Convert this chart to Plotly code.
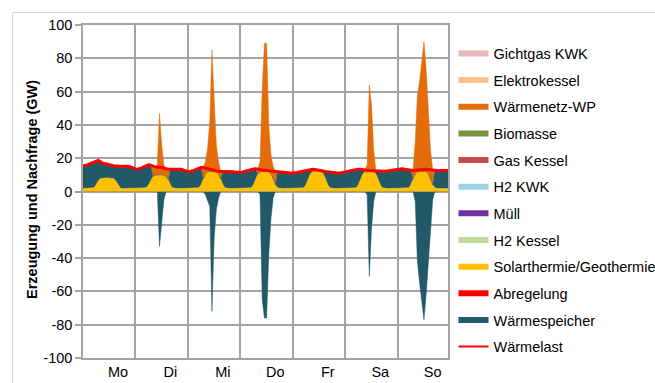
import plotly.graph_objects as go

# ---------------- data (GW, hourly, Mo 0h ... So 23h) ----------------
DAYS = ["Mo", "Di", "Mi", "Do", "Fr", "Sa", "So"]
HOURS = list(range(168))
Y_TICKS = [-100, -80, -60, -40, -20, 0, 20, 40, 60, 80, 100]
Y_TICK_TEXT = ["-100", "-80", "-60", "-40", "-20", "0", "20", "40", "60", "80", "100"]

SOLAR = [
    1.8, 1.8, 1.8, 1.8, 1.8, 2.2, 4.0, 6.5, 7.8, 8.0, 8.0, 8.2, 8.0, 8.0, 7.8, 6.5, 4.0, 2.2, 1.8, 1.8, 1.8, 1.8, 1.8, 1.8,
    1.8, 1.8, 1.8, 1.8, 1.8, 2.2, 4.0, 7.0, 9.0, 9.8, 10.0, 10.2, 10.0, 9.8, 9.0, 7.0, 4.0, 2.2, 1.8, 1.8, 1.8, 1.8, 1.8, 1.8,
    1.8, 1.8, 1.8, 1.8, 1.8, 2.2, 4.0, 7.5, 10.5, 11.8, 12.0, 12.2, 12.0, 11.8, 10.5, 7.5, 4.0, 2.2, 1.8, 1.8, 1.8, 1.8, 1.8, 1.8,
    1.8, 1.8, 1.8, 1.8, 1.8, 2.2, 4.0, 7.5, 10.5, 11.8, 12.0, 12.2, 12.0, 11.8, 10.5, 7.5, 4.0, 2.2, 1.8, 1.8, 1.8, 1.8, 1.8, 1.8,
    1.8, 1.8, 1.8, 1.8, 1.8, 2.2, 4.0, 7.5, 10.5, 11.8, 12.0, 12.2, 12.0, 11.8, 10.5, 7.5, 4.0, 2.2, 1.8, 1.8, 1.8, 1.8, 1.8, 1.8,
    1.8, 1.8, 1.8, 1.8, 1.8, 2.2, 4.0, 7.5, 10.5, 11.8, 12.0, 12.2, 12.0, 11.8, 10.5, 7.5, 4.0, 2.2, 1.8, 1.8, 1.8, 1.8, 1.8, 1.8,
    1.8, 1.8, 1.8, 1.8, 1.8, 2.2, 4.0, 7.5, 10.5, 11.8, 12.0, 12.2, 12.0, 11.8, 10.5, 7.5, 4.0, 2.2, 1.8, 1.8, 1.8, 1.8, 1.8, 1.8,
]

STORAGE_POS = [
    13.6, 13.8, 14.2, 14.8, 15.4, 15.6, 14.3, 12.1, 10.0, 9.0, 8.8, 8.4, 8.2, 7.8, 7.7, 8.8, 11.0, 12.8, 13.2, 13.4, 13.6, 13.4, 12.8, 12.2,
    11.8, 11.6, 11.8, 12.4, 13.2, 13.4, 12.0, 8.8, 0, 0, 0, 0, 0, 0, 0, 0, 9.4, 11.2, 11.8, 12.0, 12.0, 11.6, 11.0, 10.5,
    10.2, 10.2, 10.5, 11.0, 11.6, 11.8, 10.4, 0, 0, 0, 0, 0, 0, 0, 0, 0, 8.0, 9.8, 10.4, 10.4, 10.2, 10.0, 9.7, 9.6,
    9.7, 10.0, 10.4, 10.8, 11.2, 11.1, 9.5, 6.1, 0, 0, 0, 0, 0, 0, 0, 0, 0, 9.8, 10.2, 10.0, 9.8, 9.6, 9.4, 9.2,
    9.2, 9.4, 9.6, 9.9, 10.2, 10.0, 8.5, 5.4, 2.7, 1.6, 1.2, 0.7, 0.6, 0.5, 1.6, 4.5, 7.9, 9.5, 9.7, 9.5, 9.3, 9.2, 9.4, 9.8,
    10.1, 10.3, 10.6, 10.9, 11.2, 11.0, 9.4, 5.8, 2.5, 0, 0, 0, 0, 0, 1.7, 4.6, 8.0, 9.8, 10.3, 10.5, 10.7, 10.8, 11.1, 11.4,
    11.6, 11.7, 11.8, 11.6, 11.3, 10.6, 8.7, 0, 0, 0, 0, 0, 0, 0, 0, 0, 0, 10.4, 10.8, 10.7, 10.8, 10.9, 10.8, 10.8,
]

WAERMENETZ_WP = [
    0, 0, 0, 0, 0, 0, 0, 0, 0, 0, 0, 0, 0, 0, 0, 0, 0, 0, 0, 0, 0, 0, 0, 0,
    0, 0, 0, 0, 0, 0, 0, 0, 6.2, 5.0, 6.0, 36.8, 18.0, 6.2, 4.6, 6.4, 0, 0, 0, 0, 0, 0, 0, 0,
    0, 0, 0, 0, 0, 0, 0, 6.9, 7.5, 14.2, 30.0, 72.8, 43.0, 16.2, 7.5, 4.5, 0, 0, 0, 0, 0, 0, 0, 0,
    0, 0, 0, 0, 0, 0, 0, 0, 3.0, 6.2, 50.0, 76.8, 77.0, 28.2, 11.5, 7.5, 8.0, 0, 0, 0, 0, 0, 0, 0,
    0, 0, 0, 0, 0, 0, 0, 0, 0, 0, 0, 0, 0, 0, 0, 0, 0, 0, 0, 0, 0, 0, 0, 0,
    0, 0, 0, 0, 0, 0, 0, 0, 0, 1.0, 4.0, 51.8, 40.0, 13.2, 0, 0, 0, 0, 0, 0, 0, 0, 0, 0,
    0, 0, 0, 0, 0, 0, 0, 5.1, 19.5, 46.2, 54.0, 65.8, 78.0, 62.2, 39.5, 17.5, 8.8, 0, 0, 0, 0, 0, 0, 0,
]

STORAGE_NEG = [
    0, 0, 0, 0, 0, 0, 0, 0, 0, 0, 0, 0, 0, 0, 0, 0, 0, 0, 0, 0, 0, 0, 0, 0,
    0, 0, 0, 0, 0, 0, 0, 0, 0, 0, 0, -33, -20, -5, 0, 0, 0, 0, 0, 0, 0, 0, 0, 0,
    0, 0, 0, 0, 0, 0, 0, 0, -2, -5, -9, -72, -28, -11, -4, 0, 0, 0, 0, 0, 0, 0, 0, 0,
    0, 0, 0, 0, 0, 0, 0, 0, 0, -2, -65, -76, -76, -38, -16, -4, 0, 0, 0, 0, 0, 0, 0, 0,
    0, 0, 0, 0, 0, 0, 0, 0, 0, 0, 0, 0, 0, 0, 0, 0, 0, 0, 0, 0, 0, 0, 0, 0,
    0, 0, 0, 0, 0, 0, 0, 0, 0, 0, -2, -51, -22, -6, 0, 0, 0, 0, 0, 0, 0, 0, 0, 0,
    0, 0, 0, 0, 0, 0, 0, 0, -6, -42, -55, -68, -77, -62, -42, -24, -5, 0, 0, 0, 0, 0, 0, 0,
]

WAERMELAST = [
    15.4, 15.6, 16.0, 16.6, 17.2, 17.8, 18.3, 18.6, 17.8, 17.0, 16.8, 16.6, 16.2, 15.8, 15.5, 15.3, 15.0, 15.0, 15.0, 15.2, 15.4, 15.2, 14.6, 14.0,
    13.6, 13.4, 13.6, 14.2, 15.0, 15.6, 16.0, 15.8, 15.2, 14.8, 14.6, 14.6, 14.4, 14.0, 13.6, 13.4, 13.4, 13.4, 13.6, 13.8, 13.8, 13.4, 12.8, 12.3,
    12.0, 12.0, 12.3, 12.8, 13.4, 14.0, 14.4, 14.4, 14.0, 13.6, 13.4, 13.0, 12.6, 12.3, 12.0, 12.0, 12.0, 12.0, 12.2, 12.2, 12.0, 11.8, 11.5, 11.4,
    11.5, 11.8, 12.2, 12.6, 13.0, 13.3, 13.5, 13.6, 13.5, 13.2, 12.9, 12.7, 12.6, 12.5, 12.4, 12.2, 12.0, 12.0, 12.0, 11.8, 11.6, 11.4, 11.2, 11.0,
    11.0, 11.2, 11.4, 11.7, 12.0, 12.2, 12.5, 12.9, 13.2, 13.4, 13.2, 12.9, 12.6, 12.3, 12.1, 12.0, 11.9, 11.7, 11.5, 11.3, 11.1, 11.0, 11.2, 11.6,
    11.9, 12.1, 12.4, 12.7, 13.0, 13.2, 13.4, 13.3, 13.0, 12.8, 12.7, 12.6, 12.5, 12.4, 12.2, 12.1, 12.0, 12.0, 12.1, 12.3, 12.5, 12.6, 12.9, 13.2,
    13.4, 13.5, 13.6, 13.4, 13.1, 12.8, 12.7, 12.6, 12.7, 12.9, 13.1, 13.3, 13.4, 13.4, 13.2, 13.0, 12.8, 12.6, 12.6, 12.5, 12.6, 12.7, 12.6, 12.6,
]

LEGEND_NAMES = ["Gichtgas KWK", "Elektrokessel", "Wärmenetz-WP", "Biomasse", "Gas Kessel", "H2 KWK",
                "Müll", "H2 Kessel", "Solarthermie/Geothermie", "Abregelung", "Wärmespeicher", "Wärmelast"]
LEGEND_COLORS = ["#E6B9B8", "#FAC090", "#E46C0A", "#77933C", "#C0504D", "#9DD3E6",
                 "#7030A0", "#C3D69B", "#FFC000", "#FF0000", "#215968", "#FF0000"]

# ---------------- styling ----------------
FONT = "Liberation Sans, Arial, sans-serif"
GRID = "#a3a3a3"
C_SOLAR = "#FFC000"
C_STORE = "#215968"
C_WP = "#E46C0A"
C_LOAD = "#FF0000"

W, H = 655, 383
L, R, T, B = 83, 448, 25, 358


def px_x(px):
    return (px - L) / (R - L)


def px_y(py):
    return (B - py) / (B - T)


fig = go.Figure()

fig.add_trace(go.Scatter(x=HOURS, y=STORAGE_NEG, stackgroup="neg", mode="lines",
                         line=dict(color=C_STORE, width=0.5), fillcolor=C_STORE,
                         showlegend=False, hoverinfo="skip"))
fig.add_trace(go.Scatter(x=HOURS, y=SOLAR, stackgroup="pos", mode="lines",
                         line=dict(color=C_SOLAR, width=0.5), fillcolor=C_SOLAR,
                         showlegend=False, hoverinfo="skip"))
fig.add_trace(go.Scatter(x=HOURS, y=STORAGE_POS, stackgroup="pos", mode="lines",
                         line=dict(color=C_STORE, width=0.5), fillcolor=C_STORE,
                         showlegend=False, hoverinfo="skip"))
fig.add_trace(go.Scatter(x=HOURS, y=WAERMENETZ_WP, stackgroup="pos", mode="lines",
                         line=dict(color=C_WP, width=0.5), fillcolor=C_WP,
                         showlegend=False, hoverinfo="skip"))
fig.add_trace(go.Scatter(x=HOURS, y=WAERMELAST, mode="lines",
                         line=dict(color=C_LOAD, width=3),
                         showlegend=False, hoverinfo="skip"))

# legend entries
for i, (name, col) in enumerate(zip(LEGEND_NAMES, LEGEND_COLORS)):
    fig.add_trace(go.Scatter(x=[None], y=[None], mode="lines", name=name,
                             legendgroup="g%d" % i,
                             line=dict(color=col, width=2 if name == "Wärmelast" else 6)))

fig.update_layout(
    width=W, height=H,
    margin=dict(l=L, r=W - R, t=T, b=H - B, autoexpand=False),
    paper_bgcolor="white", plot_bgcolor="white",
    font=dict(family=FONT, size=14.5, color="black"),
    showlegend=True,
    legend=dict(x=px_x(453.5), xanchor="left", y=px_y(37.5), yanchor="top",
                traceorder="grouped", tracegroupgap=4.8,
                font=dict(family=FONT, size=14.5, color="black"),
                bgcolor="rgba(0,0,0,0)", borderwidth=0, itemclick=False),
    xaxis=dict(range=[0, 167], tickmode="array",
               tickvals=[24 * d + 16 for d in range(7)], ticktext=DAYS,
               showgrid=False, ticks="", showline=True, mirror=True,
               linecolor=GRID, linewidth=1.5, zeroline=False,
               minor=dict(dtick=24, tick0=0, showgrid=True, gridcolor=GRID, gridwidth=1.5),
               tickfont=dict(family=FONT, size=14.5)),
    yaxis=dict(range=[-100, 100], tickmode="array", tickvals=Y_TICKS, ticktext=Y_TICK_TEXT,
               showgrid=True, gridcolor=GRID, gridwidth=1.5,
               zeroline=True, zerolinecolor=GRID, zerolinewidth=1.5,
               showline=True, mirror=True, linecolor=GRID, linewidth=1.5,
               ticks="outside", ticklen=6, tickcolor=GRID, tickwidth=1.5,
               tickfont=dict(family=FONT, size=14.5)),
    annotations=[dict(text="<b>Erzeugung und Nachfrage (GW)</b>", textangle=-90,
                      xref="paper", yref="paper", x=px_x(32), y=px_y(190),
                      xanchor="center", yanchor="middle", showarrow=False,
                      font=dict(family=FONT, size=14.5, color="black"))],
    shapes=[
        dict(type="line", xref="paper", yref="paper", x0=px_x(12.5), x1=px_x(12.5),
             y0=px_y(12.5), y1=px_y(420), line=dict(color="#d9d9d9", width=1)),
        dict(type="line", xref="paper", yref="paper", x0=px_x(12.5), x1=px_x(720),
             y0=px_y(12.5), y1=px_y(12.5), line=dict(color="#d9d9d9", width=1)),
    ],
)

fig.write_html("out.html")
